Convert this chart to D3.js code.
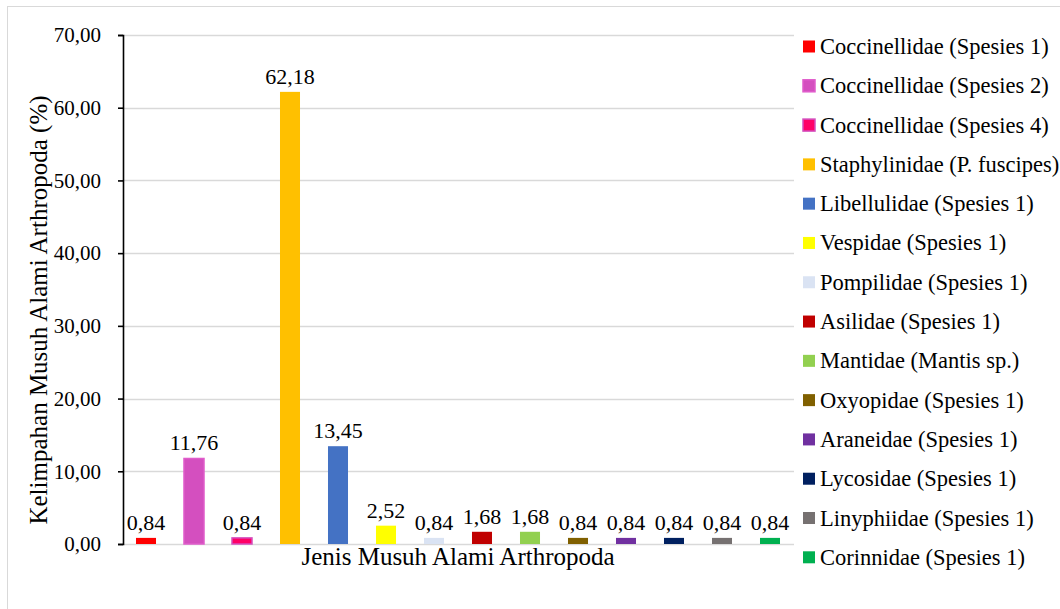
<!DOCTYPE html>
<html>
<head>
<meta charset="utf-8">
<script src="https://cdn.jsdelivr.net/npm/d3@7/dist/d3.min.js"></script>
<style>
  html, body { margin: 0; padding: 0; background: #fff; }
  svg { display: block; }
  text { font-family: "Liberation Serif", "Times New Roman", serif; fill: #000; }
</style>
</head>
<body>
<svg id="chart" width="1060" height="609"></svg>
<script>
const categories = [
  "Coccinellidae (Spesies 1)",
  "Coccinellidae (Spesies 2)",
  "Coccinellidae (Spesies 4)",
  "Staphylinidae (P. fuscipes)",
  "Libellulidae (Spesies 1)",
  "Vespidae (Spesies 1)",
  "Pompilidae (Spesies 1)",
  "Asilidae (Spesies 1)",
  "Mantidae (Mantis sp.)",
  "Oxyopidae (Spesies 1)",
  "Araneidae (Spesies 1)",
  "Lycosidae (Spesies 1)",
  "Linyphiidae (Spesies 1)",
  "Corinnidae (Spesies 1)"
];
const values = [0.84, 11.76, 0.84, 62.18, 13.45, 2.52, 0.84, 1.68, 1.68, 0.84, 0.84, 0.84, 0.84, 0.84];
const colors = ["#FF0000", "#D44FBF", "#FF0066", "#FFC000", "#4472C4", "#FFFF00", "#DAE3F3",
                "#C00000", "#92D050", "#806000", "#7030A0", "#002060", "#767171", "#00B050"];
const strokes = [null, "#E05CCB", "#D44FBF", null, null, null, null, null, null, null, null, null, null, null];
const yTicks = [0, 10, 20, 30, 40, 50, 60, 70];
const yLabel = "Kelimpahan Musuh Alami Arthropoda (%)";
const xLabel = "Jenis Musuh Alami Arthropoda";

const fmt = v => d3.format(".2f")(v).replace(".", ",");

const svg = d3.select("#chart");
const plot = { left: 122, right: 794, top: 35, bottom: 544 };

// outer frame
svg.append("rect")
  .attr("x", 7.5).attr("y", 6.5)
  .attr("width", 1100).attr("height", 700)
  .attr("fill", "none").attr("stroke", "#d9d9d9").attr("stroke-width", 1);

const x = d3.scaleBand().domain(categories).range([plot.left, plot.right]).paddingInner(0.583).paddingOuter(0.2915);
const y = d3.scaleLinear().domain([0, 70]).range([plot.bottom, plot.top]);

// gridlines
svg.append("g").selectAll("line").data(yTicks).join("line")
  .attr("x1", plot.left).attr("x2", plot.right)
  .attr("y1", d => Math.round(y(d)) + 0.5).attr("y2", d => Math.round(y(d)) + 0.5)
  .attr("stroke", "#d9d9d9").attr("stroke-width", 1.3);

// y axis
const yAxis = d3.axisLeft(y).tickValues(yTicks).tickFormat(fmt).tickSize(5).tickPadding(17);
const gy = svg.append("g").attr("transform", `translate(${plot.left + 1},0)`).call(yAxis);
gy.select(".domain").attr("stroke", "#000").attr("stroke-width", 1.6);
gy.selectAll(".tick line").attr("stroke", "#000").attr("stroke-width", 1.6);
gy.selectAll(".tick text").style("font-size", "21px").style("font-family", "Liberation Serif").attr("fill", "#000");

// bars
svg.append("g").selectAll("rect").data(categories).join("rect")
  .attr("x", d => x(d))
  .attr("y", (d, i) => y(values[i]))
  .attr("width", x.bandwidth())
  .attr("height", (d, i) => y(0) - y(values[i]))
  .attr("fill", (d, i) => colors[i])
  .attr("stroke", (d, i) => strokes[i] || "none")
  .attr("stroke-width", 1.5);

// data labels
svg.append("g").selectAll("text").data(categories).join("text")
  .attr("x", d => x(d) + x.bandwidth() / 2)
  .attr("y", (d, i) => y(values[i]) - 8)
  .attr("text-anchor", "middle")
  .style("font-size", "22px")
  .text((d, i) => fmt(values[i]));

// axis titles
svg.append("text")
  .attr("transform", `translate(38,310) rotate(-90)`)
  .attr("text-anchor", "middle")
  .attr("dominant-baseline", "central")
  .style("font-size", "25px")
  .text(yLabel);

svg.append("text")
  .attr("x", (plot.left + plot.right) / 2)
  .attr("y", 565)
  .attr("text-anchor", "middle")
  .style("font-size", "25px")
  .text(xLabel);

// legend
const legY = d3.scalePoint().domain(categories).range([46.5, 557.3]);
const leg = svg.append("g").selectAll("g").data(categories).join("g")
  .attr("transform", d => `translate(803,${legY(d)})`);
leg.append("rect")
  .attr("x", 0).attr("y", -6).attr("width", 12).attr("height", 12)
  .attr("fill", (d, i) => colors[i])
  .attr("stroke", (d, i) => strokes[i] || "none")
  .attr("stroke-width", 1.5);
leg.append("text")
  .attr("x", 17).attr("y", 0)
  .attr("dominant-baseline", "central")
  .style("font-size", "22.5px")
  .text(d => d);
</script>
</body>
</html>
